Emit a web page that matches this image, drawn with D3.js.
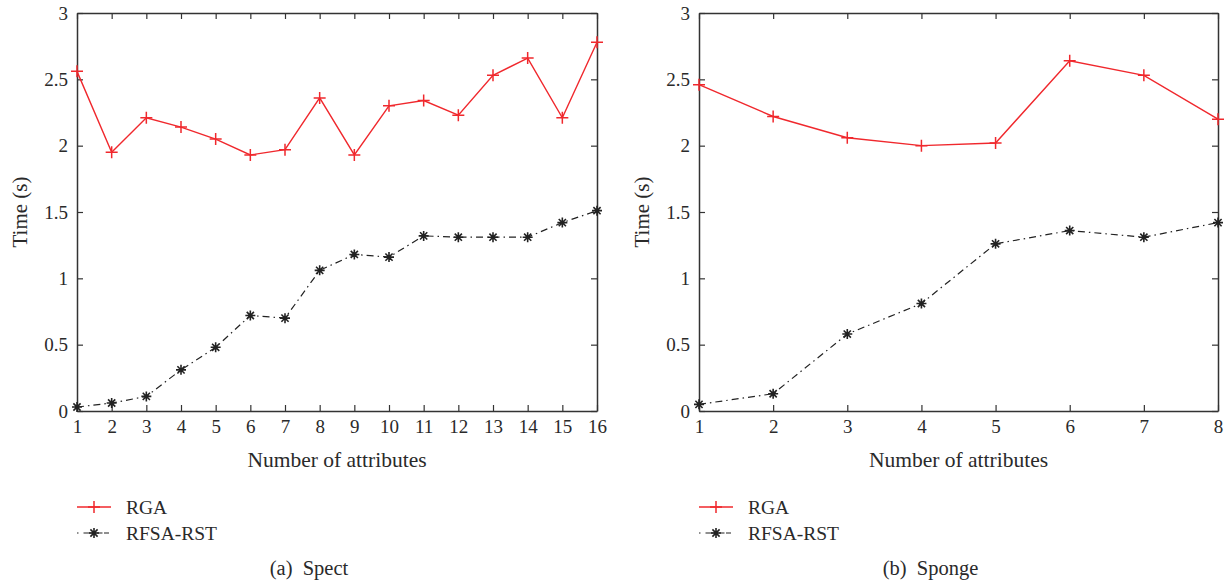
<!DOCTYPE html>
<html>
<head>
<meta charset="utf-8">
<script src="https://cdn.jsdelivr.net/npm/d3@7"></script>
<style>
  body { margin: 0; background: #fff; }
  svg text { font-family: "Liberation Serif", "Times New Roman", Times, serif; fill: #2a2a2a; }
</style>
</head>
<body>
<div id="draw"></div>
<script>
// data
const spectAttrs = d3.range(1, 17);
const spectRGA = [2.56, 1.95, 2.21, 2.14, 2.05, 1.93, 1.97, 2.36, 1.93, 2.30, 2.34, 2.23, 2.53, 2.66, 2.21, 2.78];
const spectRFSA = [0.03, 0.06, 0.11, 0.31, 0.48, 0.72, 0.70, 1.06, 1.18, 1.16, 1.32, 1.31, 1.31, 1.31, 1.42, 1.51];

const spongeAttrs = d3.range(1, 9);
const spongeRGA = [2.46, 2.22, 2.06, 2.00, 2.02, 2.64, 2.53, 2.20];
const spongeRFSA = [0.05, 0.13, 0.58, 0.81, 1.26, 1.36, 1.31, 1.42];

const yTicks = [0, 0.5, 1, 1.5, 2, 2.5, 3];
const seriesNames = ['RGA', 'RFSA-RST'];
const captions = ['(a)\u2002Spect', '(b)\u2002Sponge'];

const red = '#f0282d';
const black = '#222';
const serif = '"Liberation Serif", "Times New Roman", Times, serif';

var svg = d3.select('#draw')
  .append('svg')
  .attr('width', 1230)
  .attr('height', 582);

// marker shapes
const plusPath = 'M-6,0H6M0,-6V6';
const starPath = 'M-5,0H5M0,-5V5M-3.6,-3.6L3.6,3.6M-3.6,3.6L3.6,-3.6';

function panel(left, right, attrs, rga, rfsa, caption) {
  var top = 13, bottom = 411;
  var x = d3.scaleLinear().domain([1, attrs.length]).range([left, right]);
  var y = d3.scaleLinear().domain([0, 3]).range([bottom, top]);

  var g = svg.append('g');

  // frame axes, ticks point inward
  var axes = [
    g.append('g')
      .attr('transform', 'translate(0,' + bottom + ')')
      .call(d3.axisBottom(x).tickValues(attrs).tickFormat(d3.format('d'))
        .tickSizeInner(-6).tickSizeOuter(0).tickPadding(9)),
    g.append('g')
      .attr('transform', 'translate(0,' + top + ')')
      .call(d3.axisTop(x).tickValues(attrs).tickFormat('')
        .tickSizeInner(-6).tickSizeOuter(0)),
    g.append('g')
      .attr('transform', 'translate(' + left + ',0)')
      .call(d3.axisLeft(y).tickValues(yTicks).tickFormat(d3.format('~g'))
        .tickSizeInner(-6).tickSizeOuter(0).tickPadding(9)),
    g.append('g')
      .attr('transform', 'translate(' + right + ',0)')
      .call(d3.axisRight(y).tickValues(yTicks).tickFormat('')
        .tickSizeInner(-6).tickSizeOuter(0))
  ];
  axes.forEach(function (a) { a.attr('font-family', serif).attr('font-size', 19); });

  g.selectAll('.domain').attr('stroke', '#333').attr('stroke-width', 1.5);
  g.selectAll('.tick line').attr('stroke', '#333').attr('stroke-width', 1.2);
  g.selectAll('.tick text').attr('fill', '#2a2a2a');

  // axis titles
  g.append('text')
    .attr('x', (left + right) / 2)
    .attr('y', 467)
    .attr('text-anchor', 'middle')
    .attr('font-family', serif)
    .attr('font-size', 21.5)
    .text('Number of attributes');
  g.append('text')
    .attr('transform', 'translate(' + (left - 50) + ',' + (top + bottom) / 2 + ') rotate(-90)')
    .attr('text-anchor', 'middle')
    .attr('font-family', serif)
    .attr('font-size', 21)
    .text('Time (s)');

  var line = d3.line()
    .x(function (d, i) { return x(attrs[i]); })
    .y(function (d) { return y(d); });

  // RFSA-RST, dash-dot black
  g.append('path')
    .datum(rfsa)
    .attr('d', line)
    .attr('fill', 'none')
    .attr('stroke', black)
    .attr('stroke-width', 1.2)
    .attr('stroke-dasharray', '7,4,1.5,4');
  g.selectAll('.star')
    .data(rfsa)
    .enter()
    .append('path')
    .attr('class', 'star')
    .attr('d', starPath)
    .attr('transform', function (d, i) { return 'translate(' + x(attrs[i]) + ',' + y(d) + ')'; })
    .attr('stroke', black)
    .attr('stroke-width', 1.6);

  // RGA, solid red
  g.append('path')
    .datum(rga)
    .attr('d', line)
    .attr('fill', 'none')
    .attr('stroke', red)
    .attr('stroke-width', 1.4);
  g.selectAll('.plus')
    .data(rga)
    .enter()
    .append('path')
    .attr('class', 'plus')
    .attr('d', plusPath)
    .attr('transform', function (d, i) { return 'translate(' + x(attrs[i]) + ',' + y(d) + ')'; })
    .attr('stroke', red)
    .attr('stroke-width', 1.5);

  // legend
  var lg = g.append('g').attr('transform', 'translate(' + left + ',0)');
  lg.append('line').attr('x1', 0).attr('x2', 34).attr('y1', 507).attr('y2', 507)
    .attr('stroke', red).attr('stroke-width', 1.4);
  lg.append('path').attr('d', plusPath).attr('transform', 'translate(17,507)')
    .attr('stroke', red).attr('stroke-width', 1.5);
  lg.append('line').attr('x1', 0).attr('x2', 34).attr('y1', 533).attr('y2', 533)
    .attr('stroke', black).attr('stroke-width', 1.2).attr('stroke-dasharray', '1.5,5,9,4,6');
  lg.append('path').attr('d', starPath).attr('transform', 'translate(17,533)')
    .attr('stroke', black).attr('stroke-width', 1.6);
  lg.selectAll('.lgtext')
    .data(seriesNames)
    .enter()
    .append('text')
    .attr('x', 49)
    .attr('y', function (d, i) { return 514 + i * 26; })
    .attr('font-family', serif)
    .attr('font-size', 19.5)
    .text(function (d) { return d; });

  // caption
  g.append('text')
    .attr('x', (left + right) / 2 - 28)
    .attr('y', 575)
    .attr('text-anchor', 'middle')
    .attr('font-family', serif)
    .attr('font-size', 20.5)
    .text(caption);
}

panel(77, 597, spectAttrs, spectRGA, spectRFSA, captions[0]);
panel(699, 1218, spongeAttrs, spongeRGA, spongeRFSA, captions[1]);
</script>
</body>
</html>
